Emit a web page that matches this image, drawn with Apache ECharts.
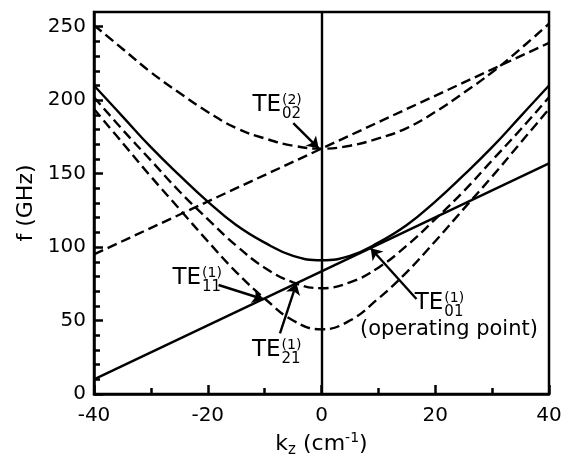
<!DOCTYPE html>
<html><head><meta charset="utf-8">
<script src="https://cdn.jsdelivr.net/npm/echarts@6/dist/echarts.min.js"></script>
<style>html,body{margin:0;padding:0;background:#fff}#c{width:569px;height:465px}</style>
</head><body><div id="c"></div>
<script>
// ---- data ----
const kz   = [-40,-35,-30,-25,-20,-15,-10,-5,0,5,10,15,20,25,30,35,40];
const te01 = [210,189,168,149,131,115,103,94,91,94,103,115,131,149,168,189,210];
const te11 = [202,180,159,138,119,101,86,76,72,76,86,101,119,138,159,180,202];
const te21 = [194,171,148,126,104,83,65,50,44,50,65,83,104,126,148,171,194];
const te02 = [251,235,219,205,192,181,174,169,167,169,174,181,192,205,219,235,252];
const beamKz = [-40, 40];
const beam2  = [95, 239];   // dashed straight line (2nd harmonic)
const beam1  = [10, 157];   // solid straight line (fundamental)
const xTicks = [-40,-20,0,20,40];
const yTicks = [0,50,100,150,200,250];
const yMinor = [10,20,30,40,60,70,80,90,110,120,130,140,160,170,180,190,210,220,230,240];
// annotation texts
const labMain = ['TE','TE','TE','TE'];
const labSup  = ['(2)','(1)','(1)','(1)'];
const labSub  = ['02','11','21','01'];
const opText  = '(operating point)';
// annotation anchors / arrows (data coords)
const labAnchor = [[-6.95,196.4],[-21.0,78.7],[-7.03,29.9],[21.6,61.7]];
const opAnchor = [6.77,43.9];
const arrows = [
  [[-4.96,184.3],[-0.5,167.2]],
  [[-18.1,74.2],[-10.2,64.5]],
  [[-7.3,41.3],[-4.4,75.3]],
  [[16.7,64.7],[8.65,99.2]]
];

const FONT = 'DejaVu Sans';
const LW = 2.4;
const chart = echarts.init(document.getElementById('c'), null, {renderer:'canvas'});
const dashed = {type:[10,5], width:LW, color:'#000'};
const solid = {type:'solid', width:LW, color:'#000'};
const pts = (xs, ys) => xs.map((x,i)=>[x, ys[i]]);
function ls(data, style, smooth){
  return {type:'line', data, smooth: smooth?0.45:false, showSymbol:false, symbol:'none',
    lineStyle:style, silent:true, animation:false, emphasis:{disabled:true}, xAxisIndex:0, yAxisIndex:0};
}
const series = [
  ls(pts(kz,te01), solid, true),
  ls(pts(kz,te11), dashed, true),
  ls(pts(kz,te21), dashed, true),
  ls(pts(kz,te02), dashed, true),
  ls(pts(beamKz,beam2), dashed, false),
  ls(pts(beamKz,beam1), solid, false),
];
series.push({
  type:'line', data:[], silent:true, animation:false,
  markLine:{
    silent:true, animation:false, symbol:['none','arrow'], symbolSize:11,
    label:{show:false}, emphasis:{disabled:true},
    lineStyle:{color:'#000', width:LW, type:'solid'},
    data: arrows.map(a=>[{coord:a[0]},{coord:a[1]}]).concat([[{coord:[0,0],symbol:'none'},{coord:[0,260],symbol:'none'}]])
  }
});

chart.setOption({
  animation:false,
  backgroundColor:'#fff',
  grid:{left:94, right:20, top:12, bottom:71, show:true, borderColor:'#000', borderWidth:2.5, containLabel:false},
  xAxis:[{
    type:'value', min:-40, max:40, interval:20,
    axisLine:{show:true, onZero:false, lineStyle:{color:'#000', width:2.5}},
    splitLine:{show:false},
    axisTick:{show:true, inside:true, length:9, lineStyle:{color:'#000', width:2.5}},
    minorTick:{show:true, splitNumber:2, length:6, lineStyle:{color:'#000', width:2.5}},
    axisLabel:{color:'#000', fontFamily:FONT, fontSize:20, margin:12},
    name:'{k|k}{s|z}{k| (cm}{p|-1}{k|)}', nameLocation:'middle', nameGap:37,
    nameTextStyle:{color:'#000', fontFamily:FONT, fontSize:22,
      rich:{
        k:{fontFamily:FONT, fontSize:22, lineHeight:27, color:'#000'},
        s:{fontFamily:FONT, fontSize:15, lineHeight:15, verticalAlign:'bottom', color:'#000'},
        p:{fontFamily:FONT, fontSize:14, lineHeight:14, verticalAlign:'top', color:'#000'}
      }}
  }],
  yAxis:[{
    type:'value', min:0, max:260, interval:50,
    axisLine:{show:true, onZero:false, lineStyle:{color:'#000', width:2.5}},
    splitLine:{show:false},
    axisTick:{show:true, inside:true, length:9, customValues:yTicks, lineStyle:{color:'#000', width:2.5}},
    axisLabel:{color:'#000', fontFamily:FONT, fontSize:20, margin:8, customValues:yTicks},
    name:'f (GHz)', nameLocation:'middle', nameGap:57,
    nameTextStyle:{color:'#000', fontFamily:FONT, fontSize:22}
  }, {
    type:'value', min:0, max:260, position:'left', offset:0,
    axisLine:{show:false, onZero:false}, splitLine:{show:false}, axisLabel:{show:false},
    axisTick:{show:true, inside:true, length:6, customValues:yMinor, lineStyle:{color:'#000', width:2.5}}
  }],
  series
});

// annotations as real text
const g = [];
const toPx = p => chart.convertToPixel({xAxisIndex:0, yAxisIndex:0}, p);
labAnchor.forEach((a,i)=>{
  const p = toPx(a);
  g.push({type:'text', x:p[0]-1, y:p[1], style:{text:labMain[i], font:'23px "DejaVu Sans"', fill:'#000', align:'right', verticalAlign:'middle'}});
  g.push({type:'text', x:p[0], y:p[1]-5, style:{text:labSup[i], font:'14px "DejaVu Sans"', fill:'#000', align:'left', verticalAlign:'middle'}});
  g.push({type:'text', x:p[0], y:p[1]+9, style:{text:labSub[i], font:'15px "DejaVu Sans"', fill:'#000', align:'left', verticalAlign:'middle'}});
});
const op = toPx(opAnchor);
g.push({type:'text', x:op[0], y:op[1], style:{text:opText, font:'21px "DejaVu Sans"', fill:'#000', align:'left', verticalAlign:'middle'}});
chart.setOption({graphic:g});
</script></body></html>
